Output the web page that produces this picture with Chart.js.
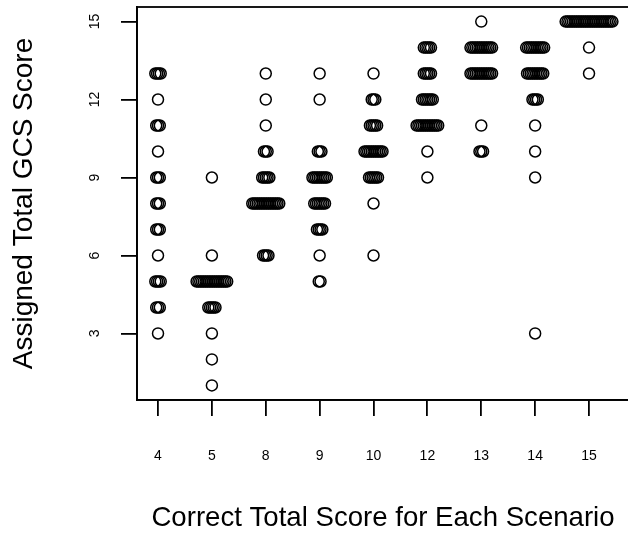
<!DOCTYPE html>
<html>
<head>
<meta charset="utf-8">
<script src="https://cdn.jsdelivr.net/npm/chart.js@4/dist/chart.umd.min.js"></script>
<style>
  html, body { margin: 0; padding: 0; background: #fff; overflow: hidden; }
  canvas { display: block; }
</style>
</head>
<body>
<canvas id="chart" width="636" height="535"></canvas>
<script>
// Scenario categories (correct total GCS) and the scores raters assigned
const scenarios = ['4', '5', '8', '9', '10', '12', '13', '14', '15'];
const yTicks = [3, 6, 9, 12, 15];

const scores_4  = [13, 12, 11, 10, 9, 8, 7, 6, 5, 4, 3];
const counts_4  = [ 4,  1,  3,  1, 3, 3, 3, 1, 4, 3, 1];

const scores_5  = [9, 6,  5, 4, 3, 2, 1];
const counts_5  = [1, 1, 18, 5, 1, 1, 1];

const scores_8  = [13, 12, 11, 10, 9,  8, 6];
const counts_8  = [ 1,  1,  1,  3, 5, 16, 4];

const scores_9  = [13, 12, 10, 9, 8, 7, 6, 5];
const counts_9  = [ 1,  1,  3, 9, 7, 4, 1, 2];

const scores_10 = [13, 12, 11, 10, 9, 8, 6];
const counts_10 = [ 1,  3,  5, 11, 6, 1, 1];

const scores_12 = [14, 13, 12, 11, 10, 9];
const counts_12 = [ 5,  5,  7, 13,  1, 1];

const scores_13 = [15, 14, 13, 11, 10];
const counts_13 = [ 1, 13, 13,  1,  3];

const scores_14 = [14, 13, 12, 11, 10, 9, 3];
const counts_14 = [11, 10,  4,  1,  1, 1, 1];

const scores_15 = [15, 14, 13];
const counts_15 = [27,  1,  1];

const columns = [
    [scores_4, counts_4], [scores_5, counts_5], [scores_8, counts_8],
    [scores_9, counts_9], [scores_10, counts_10], [scores_12, counts_12],
    [scores_13, counts_13], [scores_14, counts_14], [scores_15, counts_15]
];

// horizontal step between stacked (tied) points, in category units
const stackStep = 0.0334;

const points = [];
columns.forEach(function (col, i) {
    const scores = col[0], counts = col[1];
    scores.forEach(function (s, j) {
        const n = counts[j];
        for (let k = 0; k < n; k++) {
            points.push({ x: i + 1 + (k - (n - 1) / 2) * stackStep, y: s });
        }
    });
});

const FONT = "'Liberation Sans', Arial, Helvetica, sans-serif";

// draws the top/right sides of the plot box
const boxPlugin = {
    id: 'box',
    afterDraw(chart) {
        const a = chart.chartArea, ctx = chart.ctx;
        ctx.save();
        ctx.strokeStyle = '#000';
        ctx.lineWidth = 1.8;
        ctx.strokeRect(a.left, a.top, a.right - a.left, a.bottom - a.top);
        ctx.restore();
    }
};

new Chart(document.getElementById('chart'), {
    type: 'scatter',
    data: {
        datasets: [{
            data: points,
            pointStyle: 'circle',
            pointRadius: 5.5,
            pointHoverRadius: 5.5,
            borderWidth: 1.5,
            borderColor: '#000',
            backgroundColor: 'rgba(0,0,0,0)'
        }]
    },
    options: {
        responsive: false,
        animation: false,
        events: [],
        layout: { padding: { top: 7, right: 1, left: 0, bottom: 0 } },
        plugins: { legend: { display: false }, tooltip: { enabled: false } },
        scales: {
            x: {
                type: 'linear',
                min: 0.61,
                max: 9.742,
                afterBuildTicks: function (scale) {
                    scale.ticks = scenarios.map(function (_, i) { return { value: i + 1 }; });
                },
                afterFit: function (scale) {
                    scale.height = 135;
                    scale.paddingLeft = 0;
                    scale.paddingRight = 0;
                },
                ticks: {
                    autoSkip: false,
                    maxRotation: 0,
                    color: '#000',
                    padding: 32,
                    font: { family: FONT, size: 14 },
                    callback: function (v) { return scenarios[v - 1]; }
                },
                grid: { drawOnChartArea: false, tickLength: 16, color: '#000', lineWidth: 1.8 },
                border: { display: true, color: '#000', width: 1.8 },
                title: {
                    display: true,
                    text: 'Correct Total Score for Each Scenario',
                    color: '#000',
                    font: { family: FONT, size: 27.6, lineHeight: 1 },
                    padding: { top: 0, bottom: 3 }
                }
            },
            y: {
                type: 'linear',
                min: 0.44,
                max: 15.56,
                afterBuildTicks: function (scale) {
                    scale.ticks = yTicks.map(function (v) { return { value: v }; });
                },
                afterFit: function (scale) {
                    scale.width = 137;
                    scale.paddingTop = 0;
                    scale.paddingBottom = 0;
                },
                ticks: {
                    minRotation: 90,
                    maxRotation: 90,
                    crossAlign: 'center',
                    color: '#000',
                    padding: 18,
                    font: { family: FONT, size: 14 }
                },
                grid: { drawOnChartArea: false, tickLength: 16, color: '#000', lineWidth: 1.8 },
                border: { display: true, color: '#000', width: 1.8 },
                title: {
                    display: true,
                    text: 'Assigned Total GCS Score',
                    color: '#000',
                    font: { family: FONT, size: 28, lineHeight: 1 },
                    padding: { top: 10, bottom: 0 }
                }
            }
        }
    },
    plugins: [boxPlugin]
});
</script>
</body>
</html>
